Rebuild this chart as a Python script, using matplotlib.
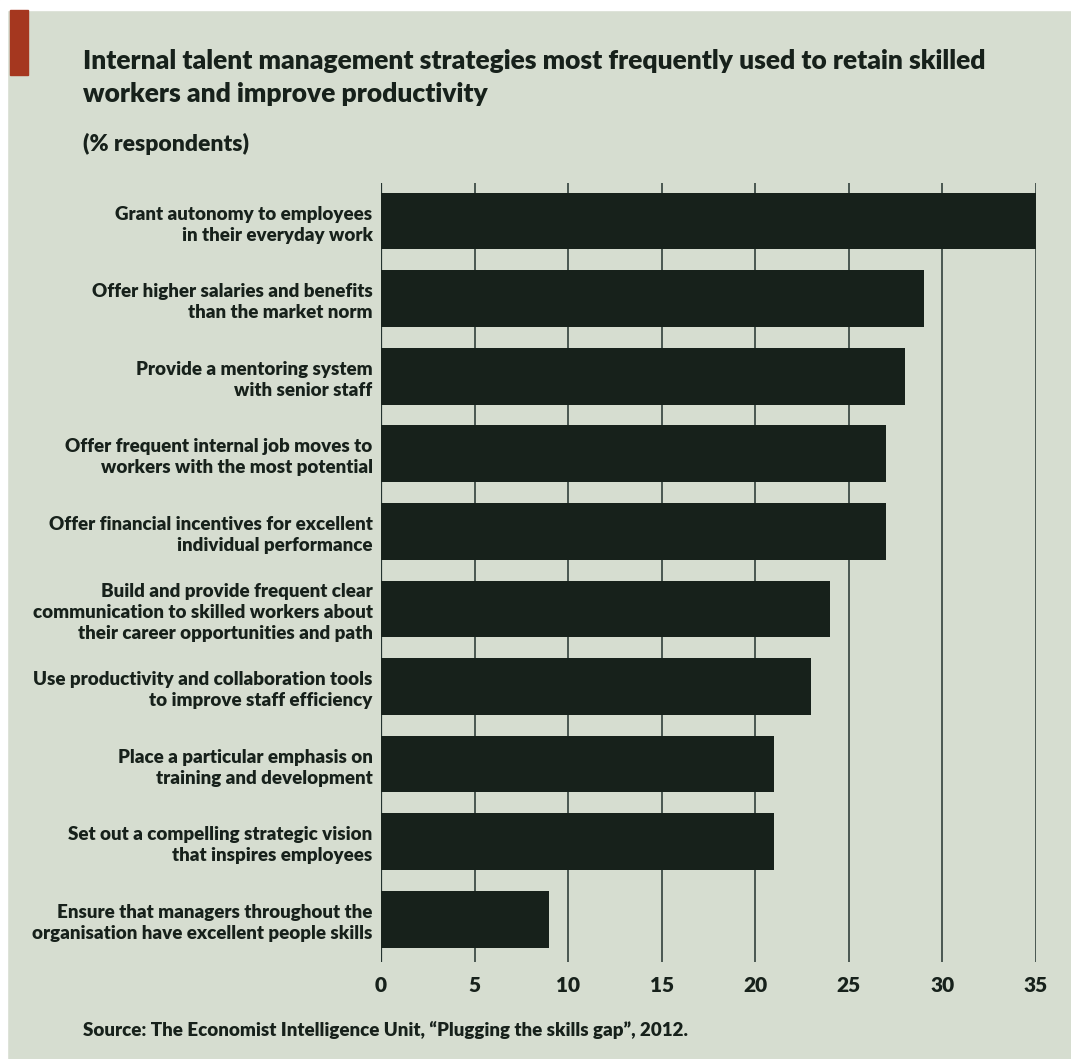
import matplotlib.pyplot as plt
from matplotlib.patches import Rectangle

plt.rcParams['font.family'] = ['Lato', 'DejaVu Sans']

labels = [
    "Grant autonomy to employees\nin their everyday work",
    "Offer higher salaries and benefits\nthan the market norm",
    "Provide a mentoring system\nwith senior staff",
    "Offer frequent internal job moves to\nworkers with the most potential",
    "Offer financial incentives for excellent\nindividual performance",
    "Build and provide frequent clear\ncommunication to skilled workers about\ntheir career opportunities and path",
    "Use productivity and collaboration tools\nto improve staff efficiency",
    "Place a particular emphasis on\ntraining and development",
    "Set out a compelling strategic vision\nthat inspires employees",
    "Ensure that managers throughout the\norganisation have excellent people skills",
]
values = [35, 29, 28, 27, 27, 24, 23, 21, 21, 9]
ticks = [0, 5, 10, 15, 20, 25, 30, 35]

bg = '#d6ddd0'
ink = '#17211b'

fig = plt.figure(figsize=(10.71, 10.59), dpi=100, facecolor=bg)
# white scan border
fig.patches.append(Rectangle((0, 0.991), 1, 0.009, transform=fig.transFigure, color='white', zorder=0))
fig.patches.append(Rectangle((0, 0), 0.007, 1, transform=fig.transFigure, color='white', zorder=0))
# red marker
fig.patches.append(Rectangle((0.009, 0.929), 0.017, 0.062, transform=fig.transFigure, color='#a5371f', zorder=1))

ax = fig.add_axes([0.3557, 0.0916, 0.6116, 0.7356])
ax.set_facecolor(bg)
pos = list(range(len(values)))
ax.barh(pos, values, height=0.73, color=ink, zorder=3)
ax.set_xlim(0, 35)
ax.set_ylim(len(values) - 0.45, -0.49)
for t in ticks:
    ax.axvline(t, color='#24332f', lw=1.6 if t == 0 else 1.1, zorder=2)
ax.set_xticks(ticks)
ax.set_xticklabels([str(t) for t in ticks], fontsize=15, fontweight='heavy', color=ink)
ax.set_yticks(pos)
ax.set_yticklabels(labels, fontsize=13.5, fontweight='heavy', color=ink, linespacing=1.3)
ax.tick_params(length=0, pad=6)
ax.tick_params(axis='x', pad=10)
for s in ax.spines.values():
    s.set_visible(False)

fig.text(0.0775, 0.954, "Internal talent management strategies most frequently used to retain skilled\nworkers and improve productivity",
         fontsize=19, fontweight='heavy', color=ink, va='top', ha='left', linespacing=1.45)
fig.text(0.0775, 0.864, "(% respondents)", fontsize=16.5, fontweight='heavy', color=ink, va='center', ha='left')
fig.text(0.0775, 0.027, "Source: The Economist Intelligence Unit, \u201cPlugging the skills gap\u201d, 2012.",
         fontsize=13.5, fontweight='heavy', color=ink, va='center', ha='left')

fig.savefig('out.png', dpi=100, facecolor=bg)
